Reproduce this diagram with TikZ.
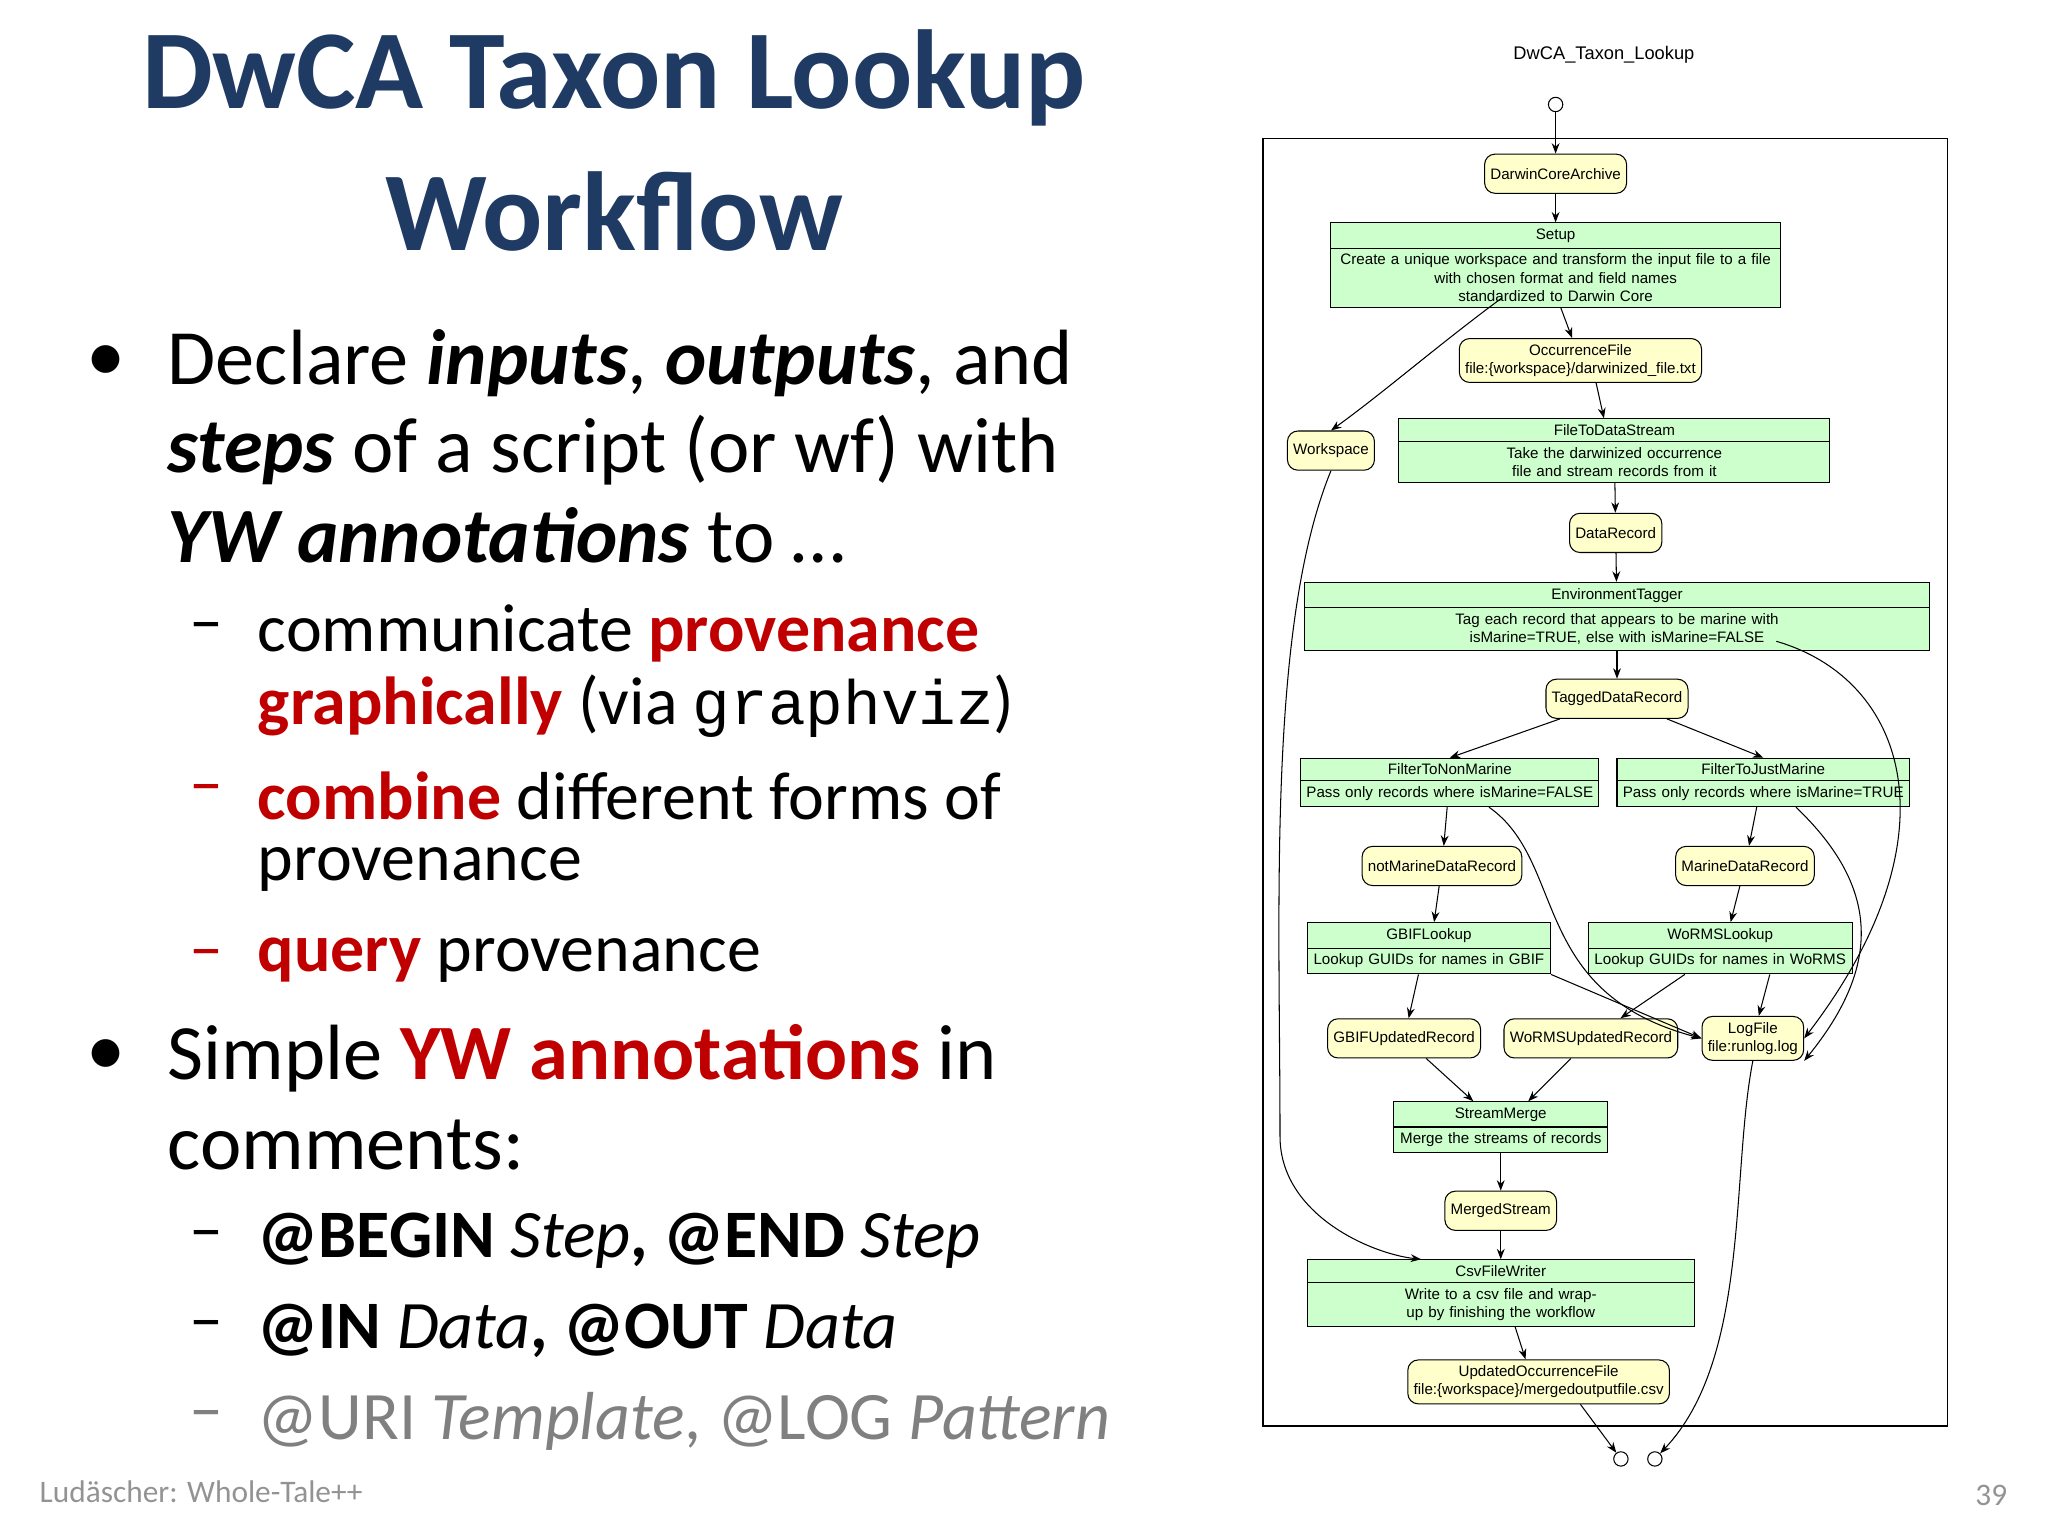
\documentclass[tikz,border=0pt]{standalone}
\usepackage{fontspec}
\setmainfont{Carlito}
\newfontfamily\gv{Liberation Sans}
\newfontfamily\monof{Liberation Mono}
\usetikzlibrary{shapes.multipart,arrows.meta}
\definecolor{ttl}{HTML}{1F3B63}
\definecolor{rd}{HTML}{C00000}
\definecolor{dfill}{HTML}{FFFFCC}
\definecolor{sfill}{HTML}{CCFFCC}
\tikzset{
 txt/.style={anchor=west,inner sep=0pt},
 databox/.style={draw,fill=dfill,rounded corners=4pt,font=\gv\fontsize{5.8}{7}\selectfont,inner sep=2.2pt,minimum height=15pt,align=center},
 stepbox/.style={draw,fill=sfill,rectangle split,rectangle split parts=2,rectangle split draw splits=true,font=\gv\fontsize{5.8}{7}\selectfont,inner sep=2pt,align=center},
 ed/.style={-{Stealth[length=4pt,width=3pt]},line width=0.4pt},
 term/.style={draw,circle,inner sep=0pt,minimum size=5.5pt,fill=white}
}
\begin{document}
\begin{tikzpicture}[x=0.5pt,y=-0.5pt]
\useasboundingbox (0,0) rectangle (1568,1176);
% title
\node[font=\bfseries\fontsize{43}{48}\selectfont,text=ttl] (t1) at (470,60) {DwCA Taxon Lookup};
\node[font=\bfseries\fontsize{43}{48}\selectfont,text=ttl] (t2) at (470,162) {Workflow};
\begin{scope}[every node/.style={txt,font=\fontsize{30}{34}\selectfont}]
\node (b1) at (66,278) {•};
\node (l1) at (128,278) {Declare \textbf{\itshape inputs}, \textbf{\itshape outputs}, and};
\node (l2) at (128,345) {\textbf{\itshape steps} of a script (or wf) with};
\node (l3) at (128,410) {\textbf{\itshape YW annotations} to \dots};
\node (b2) at (66,810) {•};
\node (l4) at (128,810) {Simple \textbf{\color{rd}YW annotations} in};
\node (l5) at (128,877) {comments:};
\end{scope}
\begin{scope}[every node/.style={txt,font=\fontsize{26}{30}\selectfont}]
\node (d1) at (145,485) {–};
\node (s1) at (197,485) {communicate \textbf{\color{rd}provenance}};
\node (s1b) at (197,541) {\textbf{\color{rd}graphically} (via {\monof\fontsize{24}{28}\selectfont graphviz})};
\node (d2) at (145,609) {\color{rd}–};
\node (s2) at (197,609) {\textbf{\color{rd}combine} different forms of};
\node (s2b) at (197,666) {provenance};
\node (d3) at (145,735) {\color{rd}–};
\node (s3) at (197,735) {\textbf{\color{rd}query} provenance};
\node (d4) at (145,950) {–};
\node (s4) at (197,950) {\textbf{@BEGIN} \textit{Step}\textbf{, @END} \textit{Step}};
\node (d5) at (145,1019) {–};
\node (s5) at (197,1019) {\textbf{@IN} \textit{Data}\textbf{, @OUT} \textit{Data}};
\node[text=gray] (d6) at (145,1088) {–};
\node[text=gray] (s6) at (197,1088) {@URI \textit{Template}, @LOG \textit{Pattern}};
\end{scope}
\node[txt,text=gray!85,font=\fontsize{12}{14}\selectfont] (foot) at (30,1142) {Ludäscher: Whole-Tale++};
\node[txt,text=gray!85,font=\fontsize{12}{14}\selectfont] (pg) at (1512,1145) {39};
% graph
\node[font=\gv\fontsize{7}{8}\selectfont] (gt) at (1228,42) {DwCA\_Taxon\_Lookup};
\draw[line width=0.7pt] (967,106) rectangle (1491,1092);
\node[term] (st) at (1191,80) {};
\node[term] (e1) at (1241,1117) {};
\node[term] (e2) at (1267,1117) {};
\node[databox] (dca) at (1191,133) {DarwinCoreArchive};
\node[stepbox,text width=168pt] (setup) at (1191,203) {Setup\nodepart{two}Create a unique workspace and transform the input file to a file\\with chosen format and field names standardized to Darwin Core};
\node[databox] (occ) at (1210,276) {OccurrenceFile\\file:\{workspace\}/darwinized\_file.txt};
\node[databox] (ws) at (1019,345) {Workspace};
\node[stepbox,text width=161pt] (ftds) at (1236,345) {FileToDataStream\nodepart{two}Take the darwinized occurrence file and stream records from it};
\node[databox] (dr) at (1237,408) {DataRecord};
\node[stepbox,text width=235pt] (env) at (1238,472) {EnvironmentTagger\nodepart{two}Tag each record that appears to be marine with isMarine=TRUE, else with isMarine=FALSE};
\node[databox] (tdr) at (1238,535) {TaggedDataRecord};
\node[stepbox,text width=110pt] (fnm) at (1110,599) {FilterToNonMarine\nodepart{two}Pass only records where isMarine=FALSE};
\node[stepbox,text width=108pt] (fjm) at (1350,599) {FilterToJustMarine\nodepart{two}Pass only records where isMarine=TRUE};
\node[databox] (nmd) at (1104,663) {notMarineDataRecord};
\node[databox] (md) at (1336,663) {MarineDataRecord};
\node[stepbox,text width=89pt] (gbif) at (1094,726) {GBIFLookup\nodepart{two}Lookup GUIDs for names in GBIF};
\node[stepbox,text width=97pt] (worms) at (1317,726) {WoRMSLookup\nodepart{two}Lookup GUIDs for names in WoRMS};
\node[databox] (gur) at (1075,795) {GBIFUpdatedRecord};
\node[databox] (wur) at (1218,795) {WoRMSUpdatedRecord};
\node[databox] (log) at (1342,795) {LogFile\\file:runlog.log};
\node[stepbox,text width=78pt] (sm) at (1149,863) {StreamMerge\nodepart{two}Merge the streams of records};
\node[databox] (ms) at (1149,927) {MergedStream};
\node[stepbox,text width=144pt] (csv) at (1149,990) {CsvFileWriter\nodepart{two}Write to a csv file and wrap-up by finishing the workflow};
\node[databox] (uof) at (1178,1058) {UpdatedOccurrenceFile\\file:\{workspace\}/mergedoutputfile.csv};
% edges
\draw[ed] (st) -- (dca);
\draw[ed] (dca) -- (setup);
\draw[ed] (setup.south -| 1195,0) -- (occ);
\draw[ed] (1150,228) .. controls (1100,265) and (1060,300) .. (ws.north);
\draw[ed] (occ.south -| 1222,0) -- (ftds.north -| 1228,0);
\draw[ed] (ftds) -- (dr);
\draw[ed] (dr) -- (env);
\draw[ed] (env) -- (tdr);
\draw[ed] (1360,491) .. controls (1460,520) and (1500,640) .. (log.east);
\draw[ed] (tdr) -- (fnm.north);
\draw[ed] (tdr) -- (fjm.north);
\draw[ed] (fnm.south -| 1108,0) -- (nmd);
\draw[ed] (1140,618) .. controls (1200,660) and (1170,760) .. (log.west);
\draw[ed] (fjm.south -| 1345,0) -- (md);
\draw[ed] (1375,618) .. controls (1440,680) and (1440,740) .. (log.south east);
\draw[ed] (nmd) -- (gbif.north -| 1098,0);
\draw[ed] (md) -- (worms.north -| 1325,0);
\draw[ed] (gbif.south -| 1086,0) -- (gur);
\draw[ed] (worms.south -| 1290,0) -- (wur);
\draw[ed] (worms.south -| 1355,0) -- (log);
\draw[ed] (gbif.south east) -- (log.west);
\draw[ed] (gur) -- (sm.north -| 1128,0);
\draw[ed] (wur) -- (sm.north -| 1170,0);
\draw[ed] (sm) -- (ms);
\draw[ed] (ms) -- (csv);
\draw[ed] (ws.south) .. controls (970,480) and (980,700) .. (980,870) .. controls (980,930) and (1050,960) .. (csv.north -| 1088,0);
\draw[ed] (csv.south -| 1160,0) -- (uof.north -| 1168,0);
\draw[ed] (uof.south -| 1210,0) -- (e1);
\draw[ed] (log.south) .. controls (1325,900) and (1340,1040) .. (e2);
\end{tikzpicture}
\end{document}
